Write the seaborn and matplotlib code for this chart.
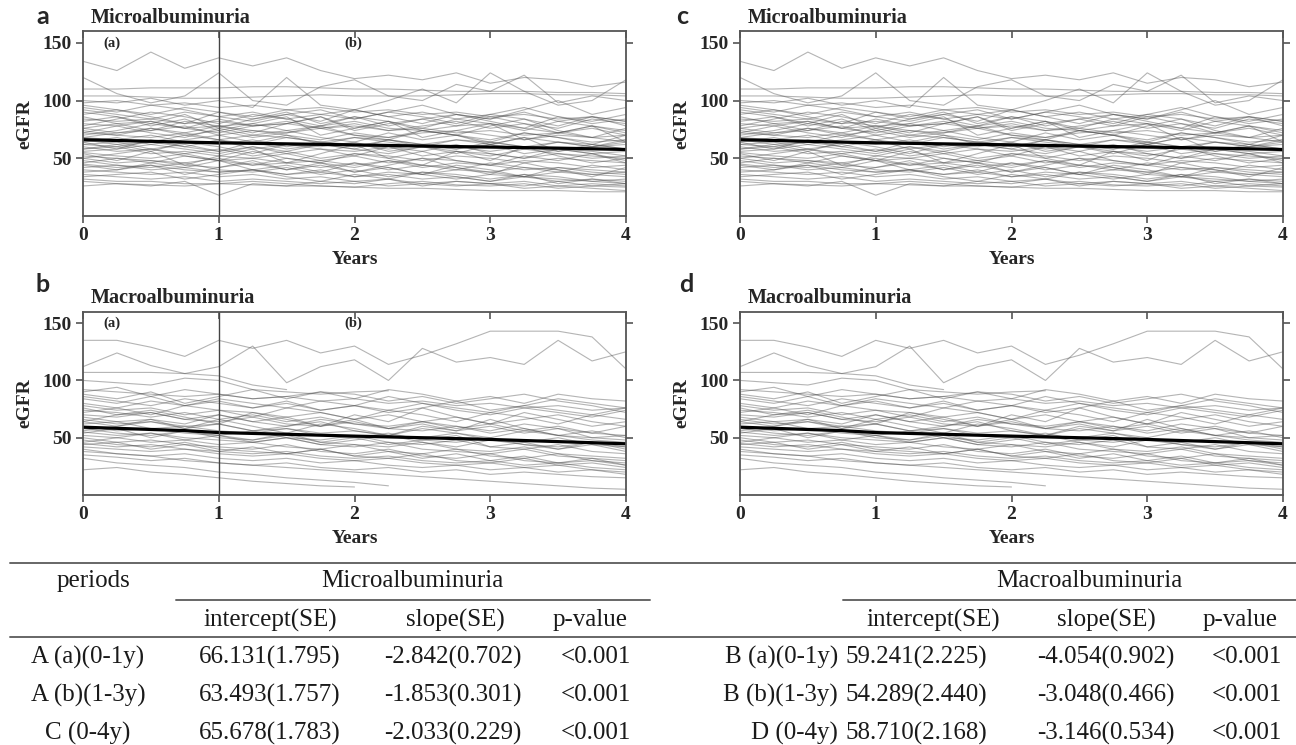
import matplotlib
matplotlib.use("Agg")
import matplotlib.pyplot as plt
from matplotlib.lines import Line2D
import numpy as np
import pandas as pd
import seaborn as sns

# ---------------- data ----------------
VISIT_YEARS = [0, 0.25, 0.5, 0.75, 1, 1.25, 1.5, 1.75, 2, 2.25, 2.5, 2.75, 3, 3.25, 3.5, 3.75, 4]

MICRO_TRAJ = [
    [134, 126, 142, 128, 137, 130, 137, 126, 119, 122, 118, 124, 115, 120, 118, 112, 116],
    [120, 106, 98, 104, 124, 100, 96, 112, 118, 104, 100, 114, 108, 122, 98, 104, 100],
    [104, 104, 103, 102, 102, 103, 104, 105, 104, 104, 104, 105, 106, 106, 105, 105, 104],
    [110, 110, 111, 111, 111, 112, 112, 111, 110, 110, 109, 108, 108, 108, 107, 107, 106],
    [92, 88, 84, 90, 86, 82, 88, 92, 84, 90, 96, 88, 84, 92, 100, 88, 94],
    [86, 80, 82, 76, 84, 78, 80, 86, 74, 80, 84, 78, 86, 80, 76, 84, 80],
    [80, 78, 82, 76, 78, 80, 74, 78, 82, 76, 74, 78, 80, 76, 72, 78, 74],
    [76, 72, 74, 78, 70, 74, 72, 76, 70, 68, 72, 74, 70, 66, 70, 68, 64],
    [72, 70, 68, 72, 66, 70, 68, 64, 68, 66, 62, 66, 64, 60, 64, 62, 58],
    [68, 66, 70, 64, 62, 66, 60, 64, 62, 58, 62, 60, 56, 60, 58, 54, 56],
    [66, 62, 64, 60, 66, 58, 62, 60, 64, 56, 60, 58, 62, 54, 58, 56, 52],
    [62, 64, 58, 62, 56, 60, 54, 58, 56, 60, 52, 56, 54, 50, 54, 52, 50],
    [60, 56, 58, 54, 58, 52, 56, 50, 54, 52, 48, 52, 50, 46, 50, 48, 46],
    [58, 60, 54, 56, 52, 50, 54, 48, 52, 46, 50, 48, 44, 48, 46, 42, 44],
    [55, 52, 50, 54, 48, 50, 46, 48, 44, 48, 42, 46, 44, 40, 42, 40, 38],
    [52, 50, 48, 46, 50, 44, 46, 42, 46, 40, 44, 42, 38, 42, 40, 36, 38],
    [50, 46, 48, 44, 42, 46, 40, 44, 38, 42, 36, 40, 38, 34, 38, 36, 34],
    [48, 44, 42, 46, 40, 38, 42, 36, 40, 34, 38, 36, 32, 36, 34, 30, 32],
    [45, 42, 44, 40, 38, 40, 36, 38, 34, 36, 32, 34, 30, 34, 32, 30, 28],
    [40, 38, 36, 38, 34, 36, 32, 34, 30, 32, 28, 30, 28, 30, 26, 28, 26],
    [36, 34, 32, 34, 30, 32, 30, 28, 30, 26, 28, 26, 28, 24, 26, 24, 22],
    [32, 30, 30, 28, 28, 27, 26, 26, 25, 24, 24, 23, 22, 22, 22, 21, 21],
    [30, 28, 26, 30, 18, 28, 26, 30, 28, 32, 26, 30, 28, 26, 30, 26, 28],
    [88, 92, 86, 80, 90, 84, 88, 82, 92, 86, 80, 88, 84, 90, 82, 86, 78],
    [94, 90, 96, 92, 86, 90, 84, 88, 92, 86, 90, 84, 88, 94, 86, 82, 88],
    [70, 74, 80, 76, 72, 78, 82, 76, 80, 74, 78, 82, 76, 80, 72, 76, 70],
    [64, 68, 62, 66, 70, 64, 58, 62, 68, 64, 60, 66, 62, 58, 64, 60, 62],
    [74, 70, 76, 72, 78, 74, 70, 66, 72, 68, 74, 70, 66, 72, 68, 64, 66],
    [84, 82, 84, 80, 82, 78, 80, 76, 78, 74, 76, 72, 74, 70, 72, 68, 70],
    [56, 58, 62, 58, 54, 60, 56, 62, 58, 54, 60, 56, 52, 58, 54, 50, 52],
    [46, 50, 46, 52, 48, 44, 50, 46, 42, 48, 44, 40, 46, 42, 38, 44, 40],
    [98, 100, 96, 98, 94, 96, 92, 94, 90, 92, 88, 90, 86, 88, 84, 86, 82],
    [78, 84, 90, 86, 80, 88, 84, 78, 86, 82, 76, 84, 80, 74, 82, 78, 72],
    [42, 44, 40, 42, 38, 40, 36, 40, 34, 38, 36, 32, 36, 34, 30, 32, 28],
    [62, 60, 64, 70, 66, 62, 68, 64, 60, 66, 62, 58, 64, 60, 56, 62, 58],
    [100, 98, 102, 96, 100, 94, 120, 96, 92, 100, 110, 98, 124, 108, 96, 100, 118],
    [38, 40, 44, 36, 42, 48, 40, 46, 38, 44, 50, 42, 36, 46, 40, 34, 42],
    [90, 86, 78, 84, 74, 80, 86, 70, 76, 82, 68, 74, 80, 66, 72, 78, 64],
    [54, 48, 56, 44, 52, 58, 46, 54, 62, 50, 44, 56, 48, 60, 52, 46, 50],
    [26, 28, 27, 26, 28, 30, 28, 26, 25, 28, 30, 27, 26, 28, 24, 26, 25],
    [82, 86, 80, 88, 76, 84, 90, 80, 86, 78, 84, 88, 82, 76, 86, 80, 84],
    [68, 72, 76, 70, 74, 68, 72, 78, 70, 66, 74, 70, 64, 72, 68, 62, 70],
    [58, 62, 56, 64, 60, 54, 62, 58, 52, 60, 56, 62, 54, 50, 58, 54, 48],
    [50, 54, 58, 52, 48, 56, 50, 46, 54, 50, 56, 48, 44, 52, 48, 54, 46],
    [44, 40, 46, 42, 48, 40, 44, 38, 46, 42, 36, 44, 40, 34, 42, 38, 36],
    [76, 80, 74, 82, 78, 72, 80, 86, 76, 82, 74, 70, 78, 84, 74, 68, 76],
    [34, 36, 38, 32, 36, 40, 34, 30, 36, 32, 38, 34, 30, 36, 28, 32, 30],
    [96, 92, 88, 94, 90, 86, 92, 88, 84, 90, 86, 80, 88, 84, 78, 86, 82],
    [64, 58, 66, 60, 56, 64, 70, 62, 58, 66, 60, 54, 62, 68, 56, 60, 64],
    [72, 78, 72, 68, 76, 70, 74, 68, 64, 72, 66, 70, 62, 68, 64, 60, 66],
]

MACRO_TRAJ = [
    [135, 135, 129, 121, 135, 128, 135, 124, 130, 114, 122, 132, 143, 143, 143, 138, 110],
    [112, 124, 113, 106, 112, 130, 98, 112, 118, 100, 128, 116, 120, 114, 135, 117, 125],
    [107, 107, 107, 106, 104, 96, 92],
    [90, 94, 86, 92, 88, 84, 86, 90, 84, 92, 88, 82, 86, 80, 88, 84, 82],
    [84, 80, 86, 78, 82, 76, 80, 74, 78, 72, 76, 82, 74, 78, 84, 80, 76],
    [78, 74, 76, 70, 74, 72, 68, 72, 66, 70, 64, 68, 62, 66, 70, 64, 60],
    [74, 72, 68, 72, 66, 70, 64, 68, 62, 60, 64, 58, 62, 56, 60, 54, 52],
    [70, 68, 72, 66, 64, 68, 62, 60, 64, 58, 56, 60, 54, 58, 52, 50, 48],
    [66, 62, 64, 60, 62, 56, 58, 54, 56, 52, 50, 54, 48, 46, 50, 44, 42],
    [62, 64, 58, 60, 56, 54, 58, 52, 50, 54, 48, 46, 50, 44, 42, 46, 40],
    [60, 56, 58, 54, 52, 56, 50, 48, 52, 46, 44, 48, 42, 40, 44, 38, 36],
    [58, 54, 52, 56, 50, 48, 52, 46, 44, 42, 46, 40, 38, 42, 36, 34, 32],
    [55, 52, 54, 50, 48, 46, 50, 44, 42, 46, 40, 38, 36, 40, 34, 32, 30],
    [52, 50, 46, 48, 44, 46, 42, 40, 44, 38, 36, 40, 34, 32, 36, 30, 28],
    [50, 46, 48, 44, 42, 40, 44, 38, 36, 40, 34, 32, 36, 30, 28, 30, 26],
    [48, 44, 42, 46, 40, 38, 36, 40, 34, 32, 36, 30, 28, 32, 26, 28, 24],
    [45, 42, 44, 40, 38, 36, 38, 34, 32, 34, 30, 28, 30, 26, 28, 24, 22],
    [42, 40, 38, 40, 36, 34, 36, 32, 30, 32, 28, 26, 28, 24, 26, 22, 20],
    [38, 36, 34, 36, 32, 30, 32, 28, 30, 26, 24, 26, 22, 24, 20, 22, 18],
    [35, 33, 30, 32, 28, 26, 28, 24, 22, 24, 20, 22, 18, 20, 18, 16, 15],
    [22, 24, 20, 18, 15, 12, 10, 8, 7],
    [32, 28, 26, 24, 20, 18, 15, 13, 11, 8],
    [40, 36, 34, 30, 28, 26, 24, 22, 20, 18, 16, 14, 12, 10, 8, 6, 5],
    [88, 84, 90, 80, 86, 92, 84, 90, 88, 82, 86, 80, 84, 88, 82, 78, 72],
    [64, 70, 74, 68, 62, 72, 66, 60, 70, 64, 76, 68, 62, 72, 66, 60, 64],
    [56, 60, 64, 58, 66, 60, 54, 62, 58, 52, 60, 56, 66, 58, 52, 56, 50],
    [72, 76, 70, 78, 74, 68, 76, 72, 66, 74, 70, 64, 72, 68, 62, 70, 66],
    [46, 50, 54, 48, 52, 46, 50, 44, 48, 52, 46, 42, 48, 44, 40, 46, 42],
    [80, 76, 82, 78, 84, 80, 76, 82, 78, 74, 80, 76, 72, 78, 74, 70, 76],
    [68, 64, 66, 62, 70, 64, 60, 66, 62, 58, 64, 60, 56, 62, 58, 54, 60],
    [92, 90, 88, 86, 88, 84, 86, 82, 84, 80, 82, 78, 80, 76, 78, 74, 76],
    [100, 98, 96, 102, 100, 92, 90, 88, 90, 91],
    [64, 60, 66, 58, 62, 56, 60, 64, 56, 52, 58, 54, 50, 56, 52, 48, 46],
    [54, 58, 50, 56, 52, 48, 54, 46, 50, 44, 48, 52, 42, 46, 40, 44, 38],
    [76, 70, 72, 66, 70, 64, 68, 60, 66, 58, 62, 56, 60, 54, 58, 50, 52],
    [44, 46, 40, 44, 38, 42, 36, 40, 34, 38, 32, 36, 30, 34, 28, 32, 26],
    [86, 82, 78, 84, 80, 76, 82, 74, 78, 86, 80, 74, 70, 76, 72, 68, 74],
]

MEAN_YEARS = [0, 0.25, 0.5, 0.75, 1, 1.5, 2, 2.5, 3, 3.5, 4]
MICRO_MEAN = [66.1, 65.4, 64.7, 64.0, 63.4, 62.5, 61.6, 60.6, 59.7, 58.8, 57.6]
MACRO_MEAN = [59.2, 58.2, 57.2, 56.2, 54.5, 53.0, 51.4, 50.0, 48.5, 46.6, 44.7]

X_TICKS = [0, 1, 2, 3, 4]
Y_TICKS = [50, 100, 150]
PANEL_LETTERS = ["a", "b", "c", "d"]
PANEL_TITLES = ["Microalbuminuria", "Macroalbuminuria", "Microalbuminuria", "Macroalbuminuria"]
X_LABEL = "Years"
Y_LABEL = "eGFR"
PERIOD_TAGS = ["(a)", "(b)"]

TABLE_GROUPS = ["Microalbuminuria", "Macroalbuminuria"]
TABLE_FIRST_HEADER = "periods"
TABLE_SUBHEADERS = ["intercept(SE)", "slope(SE)", "p-value"]
MICRO_PERIODS = ["A (a)(0-1y)", "A (b)(1-3y)", "C (0-4y)"]
MICRO_INTERCEPT = ["66.131(1.795)", "63.493(1.757)", "65.678(1.783)"]
MICRO_SLOPE = ["-2.842(0.702)", "-1.853(0.301)", "-2.033(0.229)"]
MICRO_P = ["<0.001", "<0.001", "<0.001"]
MACRO_PERIODS = ["B (a)(0-1y)", "B (b)(1-3y)", "D (0-4y)"]
MACRO_INTERCEPT = ["59.241(2.225)", "54.289(2.440)", "58.710(2.168)"]
MACRO_SLOPE = ["-4.054(0.902)", "-3.048(0.466)", "-3.146(0.534)"]
MACRO_P = ["<0.001", "<0.001", "<0.001"]


def to_long(trajs):
    rows = []
    for i, vals in enumerate(trajs):
        for t, v in zip(VISIT_YEARS, vals):
            rows.append({"id": i, "years": t, "egfr": v})
    return pd.DataFrame(rows)


micro_df = to_long(MICRO_TRAJ)
macro_df = to_long(MACRO_TRAJ)

# ---------------- style ----------------
sns.set_theme(style="white")
SERIF = ["Liberation Serif", "DejaVu Serif"]
plt.rcParams["font.family"] = SERIF
plt.rcParams["axes.edgecolor"] = "#555555"

W, H = 1296, 745
fig = plt.figure(figsize=(W / 100, H / 100), dpi=100)


def px_rect(left, top, right, bottom):
    return [left / W, 1 - bottom / H, (right - left) / W, (bottom - top) / H]


rects = [
    px_rect(83, 31.3, 626, 216),
    px_rect(83, 311.7, 626, 495),
    px_rect(740, 31.3, 1283, 216),
    px_rect(740, 311.7, 1283, 495),
]
datasets = [(micro_df, MICRO_MEAN), (macro_df, MACRO_MEAN), (micro_df, MICRO_MEAN), (macro_df, MACRO_MEAN)]
split_flags = [True, True, False, False]
letter_pos = [(43, 17), (43, 285), (682, 17), (686, 284)]

TICK_FONT = dict(fontsize=14, fontweight="bold")

for k in range(4):
    ax = fig.add_axes(rects[k])
    df, mean = datasets[k]
    sns.lineplot(data=df, x="years", y="egfr", units="id", estimator=None,
                 color="#4d4d4d", alpha=0.42, linewidth=0.8, ax=ax, legend=False)
    sns.lineplot(x=MEAN_YEARS, y=mean, color="black", linewidth=2.3, ax=ax)
    if split_flags[k]:
        ax.axvline(1, color="#444444", linewidth=1.0)
        ax.text(0.21, 150, PERIOD_TAGS[0], ha="center", va="center", fontsize=10.5, fontweight="bold")
        ax.text(1.99, 150, PERIOD_TAGS[1], ha="center", va="center", fontsize=10.5, fontweight="bold")
    ax.set_xlim(0, 4)
    ax.set_ylim(0, 160)
    ax.set_xticks(X_TICKS)
    ax.set_yticks(Y_TICKS)
    ax.set_xticklabels([str(t) for t in X_TICKS], **TICK_FONT)
    ax.set_yticklabels([str(t) for t in Y_TICKS], **TICK_FONT)
    ax.tick_params(axis="both", direction="out", length=5, width=1.2, color="#555555",
                   pad=3, left=True, bottom=True, right=True)
    ax.tick_params(axis="y", labelright=False)
    top = ax.secondary_xaxis("top")
    top.set_xticks(X_TICKS)
    top.tick_params(direction="in", length=5, width=1.2, color="#555555", labeltop=False)
    top.spines["top"].set_visible(False)
    for s in ax.spines.values():
        s.set_linewidth(1.3)
        s.set_color("#555555")
    ax.set_xlabel(X_LABEL, fontsize=14, fontweight="bold", labelpad=5)
    ax.set_ylabel(Y_LABEL, fontsize=14, fontweight="bold", labelpad=7)
    ax.text(0.015, 1.02, PANEL_TITLES[k], transform=ax.transAxes, ha="left", va="bottom",
            fontsize=14.5, fontweight="bold")
    lx, ly = letter_pos[k]
    fig.text(lx / W, 1 - ly / H, PANEL_LETTERS[k], ha="center", va="center",
             fontsize=18, fontweight="bold", family=["Lato", "DejaVu Sans"])

# ---------------- table ----------------
TXT = dict(fontsize=18, color="#1a1a1a", va="center")


def hline(x0, x1, y, lw=1.4):
    fig.add_artist(Line2D([x0 / W, x1 / W], [1 - y / H, 1 - y / H], transform=fig.transFigure,
                          color="#666666", linewidth=lw))


def ftext(x, y, s, ha="center"):
    fig.text(x / W, 1 - y / H, s, ha=ha, **TXT)


hline(10, 1296, 562.5)
hline(176, 650, 599.5)
hline(843, 1296, 599.5)
hline(10, 1296, 637)

ftext(93, 581, TABLE_FIRST_HEADER)
ftext(412, 581, TABLE_GROUPS[0])
ftext(1089, 581, TABLE_GROUPS[1])

micro_cols = [270, 455, 590]
macro_cols = [933, 1106, 1240]
for j, s in enumerate(TABLE_SUBHEADERS):
    ftext(micro_cols[j], 620, s)
    ftext(macro_cols[j], 620, s)

row_y = [657, 695, 733]
val_micro_cols = [270, 453, 596]
val_macro_cols = [916, 1106, 1247]
for i in range(3):
    y = row_y[i]
    ftext(88, y, MICRO_PERIODS[i])
    ftext(val_micro_cols[0], y, MICRO_INTERCEPT[i])
    ftext(val_micro_cols[1], y, MICRO_SLOPE[i])
    ftext(val_micro_cols[2], y, MICRO_P[i])
    ftext(838, y, MACRO_PERIODS[i], ha="right")
    ftext(val_macro_cols[0], y, MACRO_INTERCEPT[i])
    ftext(val_macro_cols[1], y, MACRO_SLOPE[i])
    ftext(val_macro_cols[2], y, MACRO_P[i])

fig.savefig("out.png", dpi=100)
